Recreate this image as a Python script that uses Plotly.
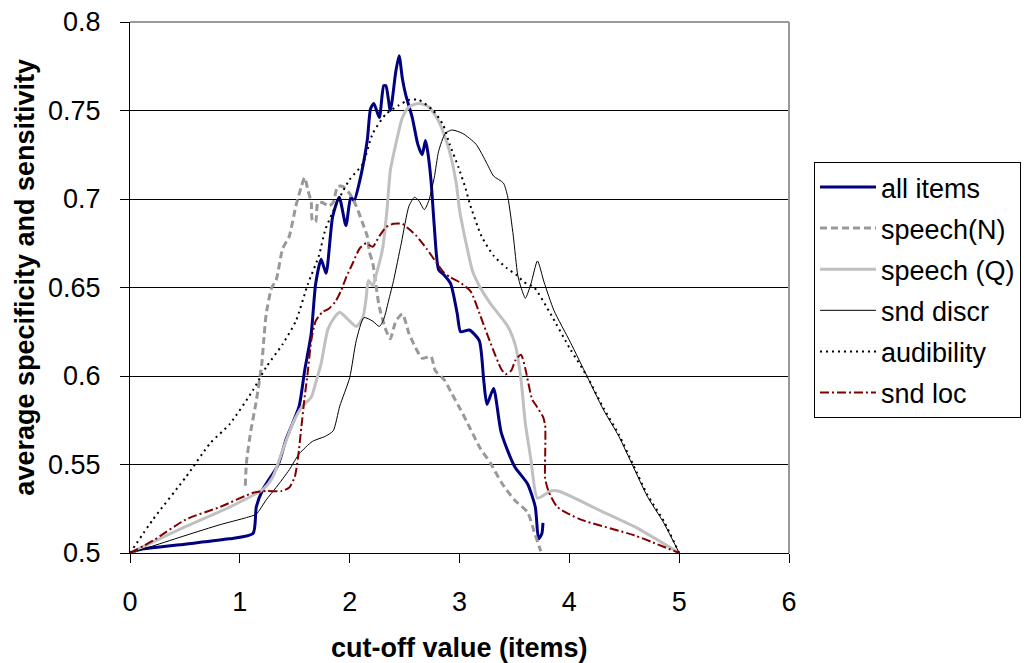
import plotly.graph_objects as go

# ---------------- data ----------------
all_x = [0, 0.09, 0.5, 0.9, 1.12, 1.15, 1.21, 1.35, 1.42, 1.54, 1.59, 1.65, 1.69, 1.74, 1.785, 1.845, 1.905,
         1.966, 2.01, 2.04, 2.087, 2.16, 2.19, 2.22, 2.27, 2.31, 2.33, 2.37, 2.42, 2.45, 2.48, 2.51, 2.57,
         2.62, 2.66, 2.69, 2.71, 2.74, 2.77, 2.81, 2.86, 2.92, 2.98, 3.01, 3.09, 3.18, 3.22, 3.25, 3.31,
         3.38, 3.50, 3.62, 3.69, 3.72, 3.75, 3.76]
all_y = [0.5, 0.502, 0.505, 0.508, 0.511, 0.526, 0.536, 0.55, 0.564, 0.583, 0.603, 0.624, 0.652, 0.666,
         0.658, 0.69, 0.701, 0.685, 0.701, 0.699, 0.709, 0.733, 0.751, 0.754, 0.746, 0.764, 0.764, 0.75,
         0.772, 0.781, 0.768, 0.759, 0.746, 0.731, 0.725, 0.733, 0.727, 0.711, 0.685, 0.66, 0.657, 0.652,
         0.635, 0.625, 0.626, 0.62, 0.598, 0.584, 0.593, 0.568, 0.549, 0.539, 0.526, 0.508, 0.511, 0.517]

spn_x = [1.05, 1.06, 1.10, 1.15, 1.20, 1.22, 1.24, 1.29, 1.33, 1.39, 1.45, 1.51, 1.56, 1.59, 1.62, 1.65,
         1.66, 1.69, 1.71, 1.75, 1.81, 1.85, 1.89, 1.94, 2.0, 2.06, 2.12, 2.16, 2.18, 2.21, 2.24, 2.27,
         2.33, 2.37, 2.42, 2.48, 2.54, 2.60, 2.66, 2.74, 2.78, 2.86, 2.93, 3.01, 3.10, 3.19, 3.28, 3.38,
         3.50, 3.62, 3.68, 3.74]
spn_y = [0.538, 0.551, 0.569, 0.586, 0.607, 0.622, 0.635, 0.65, 0.654, 0.672, 0.679, 0.696, 0.707, 0.712,
         0.705, 0.698, 0.688, 0.687, 0.698, 0.698, 0.696, 0.698, 0.707, 0.707, 0.703, 0.696, 0.686, 0.679,
         0.67, 0.664, 0.651, 0.639, 0.626, 0.621, 0.631, 0.635, 0.624, 0.616, 0.61, 0.611, 0.603, 0.598,
         0.59, 0.581, 0.57, 0.559, 0.551, 0.54, 0.53, 0.523, 0.512, 0.501]

spq_x = [0, 0.51, 0.91, 1.21, 1.30, 1.39, 1.48, 1.57, 1.65, 1.69, 1.74, 1.80, 1.86, 1.91, 2.0, 2.06, 2.12,
         2.15, 2.17, 2.21, 2.24, 2.30, 2.34, 2.37, 2.42, 2.48, 2.54, 2.63, 2.72, 2.81, 2.90, 2.97, 3.0,
         3.06, 3.12, 3.18, 3.28, 3.44, 3.51, 3.56, 3.60, 3.65, 3.71, 3.83, 3.90, 4.28, 4.59, 5.0]
spq_y = [0.5, 0.515, 0.526, 0.536, 0.543, 0.558, 0.573, 0.583, 0.588, 0.596, 0.607, 0.626, 0.633, 0.636,
         0.631, 0.628, 0.633, 0.644, 0.654, 0.651, 0.657, 0.672, 0.694, 0.716, 0.731, 0.746, 0.752, 0.754,
         0.752, 0.744, 0.729, 0.709, 0.694, 0.675, 0.659, 0.651, 0.641, 0.628, 0.617, 0.598, 0.573, 0.553,
         0.531, 0.535, 0.535, 0.524, 0.515, 0.5]

snd_x = [0, 0.21, 0.51, 0.82, 1.06, 1.15, 1.24, 1.33, 1.45, 1.54, 1.66, 1.78, 1.85, 1.91, 2.0, 2.06, 2.13,
         2.21, 2.27, 2.31, 2.36, 2.40, 2.47, 2.54, 2.59, 2.63, 2.68, 2.72, 2.77, 2.81, 2.87, 2.93, 3.03,
         3.15, 3.25, 3.31, 3.40, 3.44, 3.49, 3.53, 3.56, 3.60, 3.65, 3.71, 3.77, 3.86, 4.01, 4.16, 4.31,
         4.45, 4.58, 4.71, 4.86, 5.0]
snd_y = [0.5, 0.504, 0.51, 0.516, 0.52, 0.522, 0.53, 0.537, 0.547, 0.556, 0.563, 0.566, 0.569, 0.583,
         0.599, 0.62, 0.633, 0.631, 0.628, 0.632, 0.644, 0.654, 0.675, 0.696, 0.701, 0.699, 0.694, 0.699,
         0.712, 0.727, 0.737, 0.739, 0.737, 0.731, 0.72, 0.713, 0.709, 0.701, 0.679, 0.657, 0.650, 0.644,
         0.652, 0.665, 0.653, 0.637, 0.619, 0.6, 0.581, 0.566, 0.549, 0.532, 0.517, 0.5]

aud_x = [0, 0.21, 0.51, 0.73, 0.91, 1.12, 1.24, 1.39, 1.51, 1.62, 1.72, 1.78, 1.91, 2.0, 2.12, 2.21, 2.33,
         2.45, 2.54, 2.63, 2.76, 2.85, 2.91, 2.99, 3.06, 3.09, 3.2, 3.31, 3.43, 3.52, 3.59, 3.68, 3.83,
         4.01, 4.16, 4.31, 4.45, 4.58, 4.71, 4.86, 5.0]
aud_y = [0.5, 0.519, 0.543, 0.562, 0.573, 0.592, 0.605, 0.618, 0.631, 0.652, 0.668, 0.683, 0.701, 0.711,
         0.72, 0.737, 0.748, 0.753, 0.756, 0.756, 0.75, 0.742, 0.731, 0.718, 0.705, 0.698, 0.679, 0.668,
         0.661, 0.657, 0.653, 0.65, 0.635, 0.615, 0.6, 0.582, 0.567, 0.55, 0.533, 0.518, 0.5]

loc_x = [0, 0.21, 0.51, 0.82, 1.12, 1.24, 1.38, 1.45, 1.50, 1.53, 1.56, 1.59, 1.62, 1.65, 1.69, 1.75,
         1.81, 1.87, 1.92, 1.97, 2.03, 2.09, 2.15, 2.21, 2.27, 2.33, 2.40, 2.48, 2.54, 2.61, 2.70, 2.79,
         2.85, 2.91, 3.0, 3.10, 3.19, 3.28, 3.38, 3.42, 3.47, 3.51, 3.56, 3.60, 3.66, 3.69, 3.76, 3.78,
         3.78, 3.78, 3.81, 3.89, 4.10, 4.59, 5.0]
loc_y = [0.5, 0.507, 0.519, 0.526, 0.534, 0.535, 0.535, 0.537, 0.543, 0.554, 0.571, 0.588, 0.603, 0.62,
         0.631, 0.636, 0.638, 0.642, 0.648, 0.656, 0.664, 0.672, 0.675, 0.673, 0.679, 0.684, 0.686, 0.686,
         0.683, 0.679, 0.672, 0.664, 0.659, 0.656, 0.653, 0.648, 0.634, 0.619, 0.604, 0.601, 0.603, 0.609,
         0.612, 0.604, 0.587, 0.584, 0.577, 0.572, 0.555, 0.542, 0.535, 0.526, 0.519, 0.51, 0.5]

x_ticks = [0, 1, 2, 3, 4, 5, 6]
y_ticks = [0.5, 0.55, 0.6, 0.65, 0.7, 0.75, 0.8]
y_tick_labels = ["0.5", "0.55", "0.6", "0.65", "0.7", "0.75", "0.8"]
x_title = "cut-off value (items)"
y_title = "average specificity and sensitivity"

FONT = "Arial, 'Liberation Sans', sans-serif"
FS = 27

series = [
    ("all items", all_x, all_y, dict(color="#000080", width=3)),
    ("speech(N)", spn_x, spn_y, dict(color="#999999", width=3, dash="7px,4px")),
    ("speech (Q)", spq_x, spq_y, dict(color="#C0C0C0", width=3)),
    ("snd discr", snd_x, snd_y, dict(color="#000000", width=1)),
    ("audibility", aud_x, aud_y, dict(color="#000000", width=2, dash="2px,4px")),
    ("snd loc", loc_x, loc_y, dict(color="#800000", width=2, dash="9px,3px,2px,3px")),
]

fig = go.Figure()
for i, (name, xs, ys, ln) in enumerate(series):
    fig.add_trace(go.Scatter(x=xs, y=ys, mode="lines", name=name, line=dict(shape="spline", smoothing=0.6, **ln),
                             legendgroup=f"g{i}"))

fig.update_layout(
    width=1027, height=663,
    margin=dict(l=130, r=238, t=22, b=110, autoexpand=False),
    paper_bgcolor="white", plot_bgcolor="white",
    font=dict(family=FONT, size=FS, color="black"),
    showlegend=True,
    legend=dict(xref="container", yref="container", x=0.7926, y=0.7557, xanchor="left", yanchor="top",
                bordercolor="black", borderwidth=1, bgcolor="white",
                font=dict(family=FONT, size=FS, color="black"),
                tracegroupgap=3, itemwidth=56, entrywidth=146, entrywidthmode="pixels"),
    xaxis=dict(range=[0, 6], tickvals=x_ticks, ticks="outside", ticklen=9, tickcolor="black",
               showline=True, linecolor="black", linewidth=1, showgrid=False, zeroline=False,
               tickfont=dict(size=FS), ticklabelstandoff=16, automargin=False),
    yaxis=dict(range=[0.5, 0.8], tickvals=y_ticks, ticktext=y_tick_labels, ticks="outside", ticklen=9,
               tickcolor="black", showline=True, linecolor="black", linewidth=1,
               showgrid=True, gridcolor="black", gridwidth=1, zeroline=False,
               tickfont=dict(size=FS), ticklabelstandoff=14, automargin=False),
    annotations=[
        dict(text=f"<b>{x_title}</b>", xref="paper", yref="paper", x=0.5, y=-0.178,
             xanchor="center", yanchor="middle", showarrow=False, font=dict(size=FS)),
        dict(text=f"<b>{y_title}</b>", xref="paper", yref="paper", x=-0.159, y=0.519,
             xanchor="center", yanchor="middle", textangle=-90, showarrow=False, font=dict(size=FS)),
    ],
)
# gray plot-area border on top and right
fig.add_shape(type="line", xref="paper", yref="paper", x0=0, x1=1, y0=1, y1=1,
              line=dict(color="#999999", width=2))
fig.add_shape(type="line", xref="paper", yref="paper", x0=1, x1=1, y0=0, y1=1,
              line=dict(color="#999999", width=2))

fig.write_html("out.html")
